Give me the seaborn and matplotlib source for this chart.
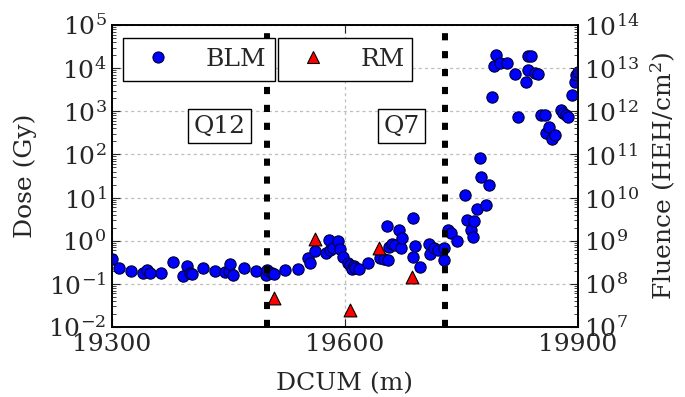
import numpy as np
import pandas as pd
import matplotlib
matplotlib.use("Agg")
import matplotlib.pyplot as plt
import seaborn as sns
from matplotlib.lines import Line2D
from matplotlib.ticker import LogLocator, LogFormatterMathtext, FixedLocator

# ---------------- data ----------------
blm_dcum = [19300, 19309, 19325, 19340, 19345, 19349, 19363, 19378, 19392, 19397,
            19400, 19403, 19417, 19433, 19446, 19451, 19452, 19456, 19470, 19486,
            19498, 19500, 19506, 19508, 19523, 19539, 19553, 19555, 19562, 19575,
            19579, 19581, 19585, 19591, 19593, 19598, 19604, 19607, 19609, 19611,
            19613, 19618, 19630, 19645, 19650, 19654, 19656, 19657, 19660, 19665,
            19669, 19672, 19673, 19687, 19688, 19690, 19697, 19708, 19710, 19714,
            19720, 19727, 19728, 19732, 19736, 19744, 19755, 19757, 19762, 19765,
            19766, 19770, 19774, 19775, 19782, 19785, 19789, 19792, 19795, 19800,
            19809, 19819, 19823, 19833, 19835, 19836, 19839, 19845, 19848, 19852,
            19857, 19859, 19863, 19866, 19870, 19878, 19881, 19884, 19887, 19892,
            19896, 19898, 19900]
blm_dose = [0.38, 0.235, 0.20, 0.175, 0.215, 0.18, 0.175, 0.32, 0.15, 0.26,
            0.18, 0.17, 0.235, 0.20, 0.19, 0.20, 0.29, 0.16, 0.235, 0.20,
            0.16, 0.21, 0.18, 0.166, 0.21, 0.22, 0.39, 0.31, 0.57, 0.52,
            1.03, 0.60, 0.66, 0.98, 0.63, 0.42, 0.30, 0.27, 0.22, 0.26,
            0.23, 0.22, 0.30, 0.40, 0.37, 2.2, 0.36, 0.72, 0.82, 0.79,
            1.8, 0.66, 1.13, 3.3, 0.41, 0.76, 0.24, 0.82, 0.49, 0.66,
            0.60, 0.36, 0.66, 1.76, 1.5, 0.98, 11.4, 3.1, 1.76, 1.23,
            2.85, 5.3, 81, 30, 6.9, 20, 2180, 11200, 20400, 13500,
            13500, 7200, 750, 4900, 9100, 19200, 19000, 7900, 7200, 820,
            820, 310, 425, 225, 280, 1070, 930, 820, 720, 2400,
            4900, 6900, 8300]
rm_dcum = [19508, 19561, 19607, 19644, 19686]
rm_dose = [0.046, 1.07, 0.025, 0.66, 0.145]

quad_pos = [19500, 19729]
quad_labels = ["Q12", "Q7"]
quad_label_x = [19438, 19673]
quad_label_y = 457

x_ticks = [19300, 19600, 19900]
legend_labels = ["BLM", "RM"]

blm = pd.DataFrame({"DCUM": blm_dcum, "Dose": blm_dose})
rm = pd.DataFrame({"DCUM": rm_dcum, "Dose": rm_dose})

# ---------------- style ----------------
sns.set_style("ticks")
plt.rcParams["font.family"] = ["DejaVu Serif"]
plt.rcParams["mathtext.fontset"] = "dejavuserif"
plt.rcParams["axes.unicode_minus"] = False
FS = 18

fig = plt.figure(figsize=(6.85, 3.97), dpi=100)
ax = fig.add_axes([112/685, 1-327/397, 466/685, 302/397])

sns.scatterplot(data=blm, x="DCUM", y="Dose", ax=ax, marker="o", s=66,
                color="#0000ff", edgecolor="#000033", linewidth=0.8, zorder=3)
sns.scatterplot(data=rm, x="DCUM", y="Dose", ax=ax, marker="^", s=85,
                color="#ff0000", edgecolor="black", linewidth=0.8, zorder=4)

ax.set_yscale("log")
ax.set_xlim(19300, 19900)
ax.set_ylim(1e-2, 1e5)
ax.xaxis.set_major_locator(FixedLocator(x_ticks))
ax.yaxis.set_major_locator(LogLocator(base=10, numticks=20))
ax.yaxis.set_minor_locator(LogLocator(base=10, subs=np.arange(2, 10), numticks=20))
ax.yaxis.set_major_formatter(LogFormatterMathtext())

ax.grid(True, which="major", color="0.75", linestyle=(0, (2.5, 2.5)), linewidth=0.9)
for xq in quad_pos:
    ax.axvline(xq, color="black", linewidth=4.3, linestyle=(0, (1.2, 1.8)), zorder=5)

for lab, xl in zip(quad_labels, quad_label_x):
    ax.text(xl, quad_label_y, lab, fontsize=FS, ha="center", va="center",
            bbox=dict(boxstyle="square,pad=0.22", facecolor="white",
                      edgecolor="black", linewidth=1.0), zorder=6)

ax.set_xlabel("DCUM (m)", fontsize=FS, labelpad=12)
ax.set_ylabel("Dose (Gy)", fontsize=FS, labelpad=8)
ax.tick_params(axis="both", which="major", direction="in", length=6, width=0.8,
               labelsize=FS, top=True, right=False, pad=4)
ax.tick_params(axis="y", which="minor", direction="in", length=3, width=0.6, right=False)
ax.tick_params(axis="x", which="minor", bottom=False, top=False)

ax2 = ax.twinx()
ax2.set_yscale("log")
ax2.set_ylim(1e7, 1e14)
ax2.yaxis.set_major_locator(LogLocator(base=10, numticks=20))
ax2.yaxis.set_minor_locator(LogLocator(base=10, subs=np.arange(2, 10), numticks=20))
ax2.yaxis.set_major_formatter(LogFormatterMathtext())
ax2.tick_params(axis="y", which="major", direction="in", length=6, width=0.8,
                labelsize=FS, pad=4)
ax2.tick_params(axis="y", which="minor", direction="in", length=3, width=0.6)
ax2.set_ylabel("Fluence (HEH/cm$^2$)", fontsize=FS, labelpad=7)

for a in (ax, ax2):
    for sp in a.spines.values():
        sp.set_linewidth(1.2)
        sp.set_color("black")

# legends (two separate boxes)
h_blm = Line2D([], [], marker="o", linestyle="none", markersize=8,
               markerfacecolor="#0000ff", markeredgecolor="#000033", markeredgewidth=0.8)
h_rm = Line2D([], [], marker="^", linestyle="none", markersize=9,
              markerfacecolor="#ff0000", markeredgecolor="black", markeredgewidth=0.8)
leg_kw = dict(mode="expand", loc="upper left", borderaxespad=0, fontsize=FS,
              handlelength=2.0, handletextpad=0.9, borderpad=0.4,
              fancybox=False, framealpha=1, edgecolor="black")
leg1 = ax2.legend([h_blm], [legend_labels[0]],
                  bbox_to_anchor=(11/466, 1-13/302, 152/466, 0.001), **leg_kw)
leg1.get_frame().set_linewidth(1.0)
ax2.add_artist(leg1)
leg2 = ax2.legend([h_rm], [legend_labels[1]],
                  bbox_to_anchor=(166/466, 1-13/302, 134/466, 0.001), **leg_kw)
leg2.get_frame().set_linewidth(1.0)

fig.savefig("out.png", dpi=100)
